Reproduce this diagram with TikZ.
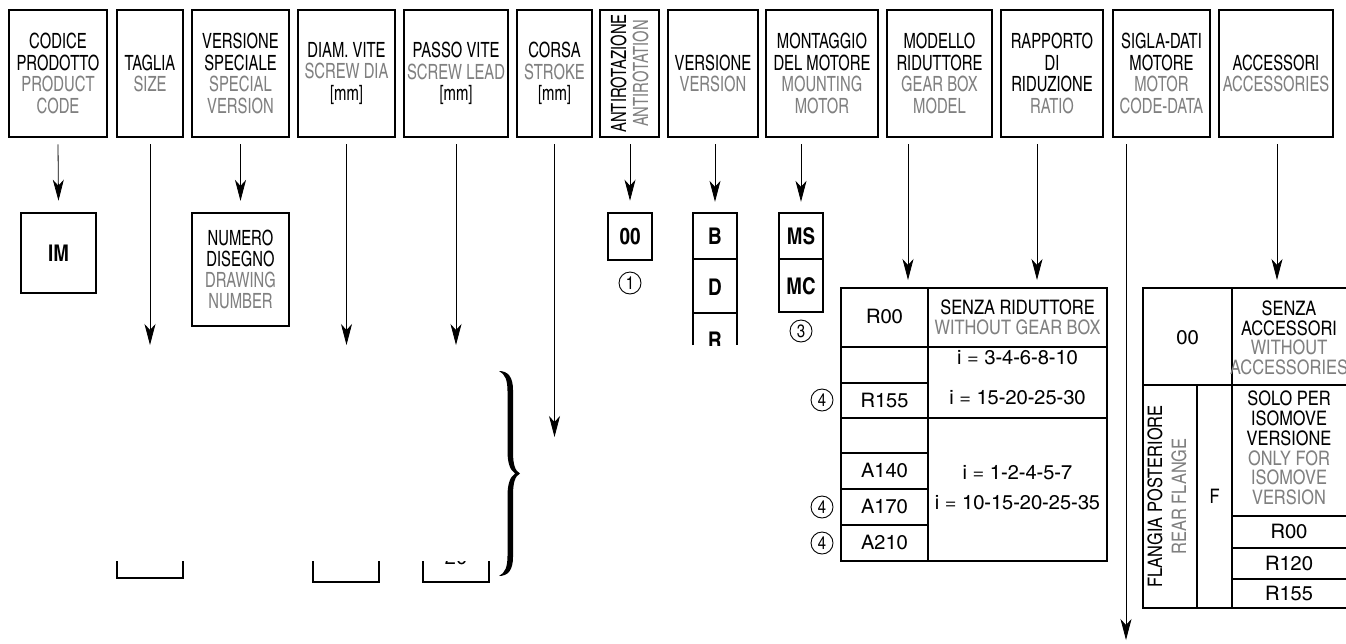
\documentclass[tikz,border=0pt]{standalone}
\usepackage{fontspec}
\setmainfont{texgyreheroscn-regular.otf}[BoldFont=texgyreheroscn-bold.otf, FakeStretch=0.86]
\newfontfamily\tabfont{texgyreheroscn-regular.otf}[BoldFont=texgyreheroscn-bold.otf]
\newfontfamily\numfont{texgyreheroscn-regular.otf}[FakeStretch=1.22]
\usetikzlibrary{arrows.meta}
\definecolor{engl}{gray}{0.5}
\newcommand{\eng}[1]{\textcolor{engl}{#1}}
\newcommand{\txt}{\fontsize{21}{21.5}\selectfont}
\newcommand{\ttab}{\tabfont\fontsize{20}{20}\selectfont}
\newcommand{\tcode}{\tabfont\fontsize{23}{23}\selectfont\bfseries}
\tikzset{
  hdr/.style={draw, line width=2.6pt, minimum height=127pt, inner sep=0pt, align=center},
  codebox/.style={draw, line width=2.6pt, inner sep=0pt, align=center, font=\tcode},
  cell/.style={inner sep=0pt, align=center, font=\tcode},
  tabline/.style={line width=1.2pt},
  tabtext/.style={align=center, font=\ttab},
  numtext/.style={font=\numfont\fontsize{20}{20}\selectfont},
  circ/.style={circle, draw, line width=0.9pt, minimum size=22pt, inner sep=0pt, font=\tabfont\fontsize{18}{18}\selectfont},
  arr/.style={-{Stealth[length=21pt,width=11pt,inset=6pt]}, line width=0.8pt},
}
\begin{document}
\begin{tikzpicture}[x=1pt, y=-1pt, font=\txt]
        \useasboundingbox (0,0) rectangle (1346,643);
        % Header boxes
        \node[hdr, minimum width=98pt] (codice) at (58,73.5) {CODICE\\PRODOTTO\\\eng{PRODUCT}\\\eng{CODE}};
        \node[hdr, minimum width=66pt] (taglia) at (150,73.5) {TAGLIA\\\eng{SIZE}};
        \node[hdr, minimum width=97pt] (vspec) at (240.5,73.5) {VERSIONE\\SPECIALE\\\eng{SPECIAL}\\\eng{VERSION}};
        \node[hdr, minimum width=97pt] (diam) at (346.5,73.5) {DIAM. VITE\\\eng{SCREW DIA}\\{[mm]}};
        \node[hdr, minimum width=104pt] (passo) at (456,73.5) {PASSO VITE\\\eng{SCREW LEAD}\\{[mm]}};
        \node[hdr, minimum width=75pt] (corsa) at (554.5,73.5) {CORSA\\\eng{STROKE}\\{[mm]}};
        \node[hdr, minimum width=59pt] (antirot) at (629.5,73.5) {};
        \node[rotate=90, align=center, font=\fontsize{21}{22}\selectfont] at (antirot.center) {ANTIROTAZIONE\\\eng{ANTIROTATION}};
        \node[hdr, minimum width=90pt] (versione) at (713,73.5) {VERSIONE\\\eng{VERSION}};
        \node[hdr, minimum width=112pt] (montaggio) at (822,73.5) {MONTAGGIO\\DEL MOTORE\\\eng{MOUNTING}\\\eng{MOTOR}};
        \node[hdr, minimum width=105pt] (modello) at (939.5,73.5) {MODELLO\\RIDUTTORE\\\eng{GEAR BOX}\\\eng{MODEL}};
        \node[hdr, minimum width=102pt] (rapporto) at (1052,73.5) {RAPPORTO\\DI\\RIDUZIONE\\\eng{RATIO}};
        \node[hdr, minimum width=97pt] (sigla) at (1161.5,73.5) {SIGLA-DATI\\MOTORE\\\eng{MOTOR}\\\eng{CODE-DATA}};
        \node[hdr, minimum width=114pt] (accessori) at (1276,73.5) {ACCESSORI\\\eng{ACCESSORIES}};

        % Code boxes
        \node[codebox, minimum width=75pt, minimum height=80pt] (im) at (58.5,253) {IM};
        \node[draw, line width=2.2pt, minimum width=97pt, minimum height=113pt, inner sep=0pt, align=center,
              font=\fontsize{21}{21}\selectfont] (numero) at (240.5,269.5)
              {NUMERO\\DISEGNO\\\eng{DRAWING}\\\eng{NUMBER}};
        \node[codebox, minimum width=44pt, minimum height=47pt] (antizero) at (630,236.5) {00};
        \node[circ] (n1) at (630,283) {1};
        % Version column (cut at the bottom)
        \draw[line width=2.6pt] (693,345) -- (693,213) -- (737,213) -- (737,345);
        \draw[tabline] (693,259) -- (737,259);
        \draw[tabline] (693,313) -- (737,313);
        \node[cell, minimum width=44pt, minimum height=46pt] (vb) at (715,236) {B};
        \node[cell] (vd) at (715,287) {D};
        \begin{scope}
          \clip (690,314) rectangle (740,345);
          \node[cell] (vr) at (715,340) {R};
        \end{scope}
        % Motor mounting
        \draw[line width=2.6pt] (779,213) rectangle (823,312);
        \draw[tabline] (779,259) -- (823,259);
        \node[cell, minimum width=44pt, minimum height=46pt] (ms) at (801,236) {MS};
        \node[cell] (mc) at (801,286) {MC};
        \node[circ] (n3) at (801,331) {3};

        % Gear box table
        \draw[tabline] (841,288) rectangle (1107,561);
        \draw[tabline] (928,288) -- (928,561);
        \draw[tabline] (841,347) -- (1107,347);
        \draw[tabline] (841,418) -- (1107,418);
        \foreach \y in {383,453,489,525}
          \draw[tabline] (841,\y) -- (928,\y);
        \node[numtext] at (884.5,317) {R00};
        \node[tabtext] at (1017.5,317) {SENZA RIDUTTORE\\\eng{WITHOUT GEAR BOX}};
        \node[numtext] at (1017.5,358) {i = 3-4-6-8-10};
        \node[numtext] at (1017.5,398) {i = 15-20-25-30};
        \node[numtext] at (884.5,400.5) {R155};
        \node[numtext] at (884.5,471) {A140};
        \node[numtext] at (884.5,507) {A170};
        \node[numtext] at (884.5,543) {A210};
        \node[numtext] at (1017.5,473) {i = 1-2-4-5-7};
        \node[numtext] at (1017.5,503) {i = 10-15-20-25-35};
        \node[circ] (n4a) at (822,400) {4};
        \node[circ] (n4b) at (822,507) {4};
        \node[circ] (n4c) at (822,543) {4};

        % Accessories table
        \draw[tabline] (1346,288) -- (1143,288) -- (1143,608) -- (1346,608);
        \draw[tabline] (1232,288) -- (1232,608);
        \draw[tabline] (1143,385) -- (1346,385);
        \draw[tabline] (1197,385) -- (1197,608);
        \foreach \y in {516,548,579}
          \draw[tabline] (1232,\y) -- (1346,\y);
        \node[numtext] at (1187.5,338) {00};
        \node[tabtext, font=\tabfont\fontsize{20}{19.5}\selectfont] at (1289,338) {SENZA\\ACCESSORI\\\eng{WITHOUT}\\\eng{ACCESSORIES}};
        \node[tabtext, font=\tabfont\fontsize{20}{19.8}\selectfont] at (1289,448) {SOLO PER\\ISOMOVE\\VERSIONE\\\eng{ONLY FOR}\\\eng{ISOMOVE}\\\eng{VERSION}};
        \node[numtext] at (1289,532) {R00};
        \node[numtext] at (1289,563.5) {R120};
        \node[numtext] at (1289,593.5) {R155};
        \node[tabtext] at (1214.5,496.5) {F};
        \node[rotate=90, align=center, font=\tabfont\fontsize{20}{24}\selectfont] at (1167,496.5) {FLANGIA POSTERIORE\\\eng{REAR FLANGE}};

        % Cut boxes and brace
        \draw[line width=2.6pt] (117,561) -- (117,578) -- (183,578) -- (183,561);
        \draw[line width=2.6pt] (313,561) -- (313,582) -- (379,582) -- (379,561);
        \draw[line width=2.6pt] (423,561) -- (423,582) -- (489,582) -- (489,561);
        \begin{scope}
          \clip (423,561) rectangle (489,590);
          \node[numtext] at (456,557.5) {20};
        \end{scope}
        \fill (499,371) .. controls (508,371) and (513,377) .. (513,390) -- (513,452)
              .. controls (513,464) and (515,471) .. (520,473.5)
              .. controls (515,476) and (513,483) .. (513,495) -- (513,557)
              .. controls (513,570) and (508,576) .. (499,576)
              .. controls (505,573) and (507.5,567) .. (507.5,556) -- (507.5,496)
              .. controls (507.5,484) and (510,477) .. (515,473.5)
              .. controls (510,470) and (507.5,463) .. (507.5,451) -- (507.5,391)
              .. controls (507.5,380) and (505,374) .. (499,371) -- cycle;

        % Arrow ends
        \coordinate (tagliaend) at (150,345);
        \coordinate (diamend) at (346.5,345);
        \coordinate (passoend) at (456,345);
        \coordinate (corsaend) at (554.5,437);
        \coordinate (gearend) at (908,280);
        \coordinate (ratioend) at (1037,280);
        \coordinate (motorend) at (1126,640);
        \coordinate (accend) at (1277,280);
        % Arrows
        \draw[arr] (codice.south) ++(0,6) -- ([yshift=11pt]im.north);
        \draw[arr] (taglia.south) ++(0,6) -- (tagliaend);
        \draw[arr] (vspec.south) ++(0,6) -- ([yshift=11pt]numero.north);
        \draw[arr] (diam.south) ++(0,6) -- (diamend);
        \draw[arr] (passo.south) ++(0,6) -- (passoend);
        \draw[arr] (corsa.south) ++(0,6) -- (corsaend);
        \draw[arr] (antirot.south -| antizero.north) ++(0,6) -- ([yshift=11pt]antizero.north);
        \draw[arr] (versione.south -| vb.north) ++(0,6) -- ([yshift=11pt]vb.north);
        \draw[arr] (montaggio.south -| ms.north) ++(0,6) -- ([yshift=11pt]ms.north);
        \draw[arr] (modello.south -| gearend) ++(0,6) -- (gearend);
        \draw[arr] (rapporto.south -| ratioend) ++(0,6) -- (ratioend);
        \draw[arr] (sigla.south -| motorend) ++(0,6) -- (motorend);
        \draw[arr] (accessori.south -| accend) ++(0,6) -- (accend);
    \end{tikzpicture}
\end{document}
